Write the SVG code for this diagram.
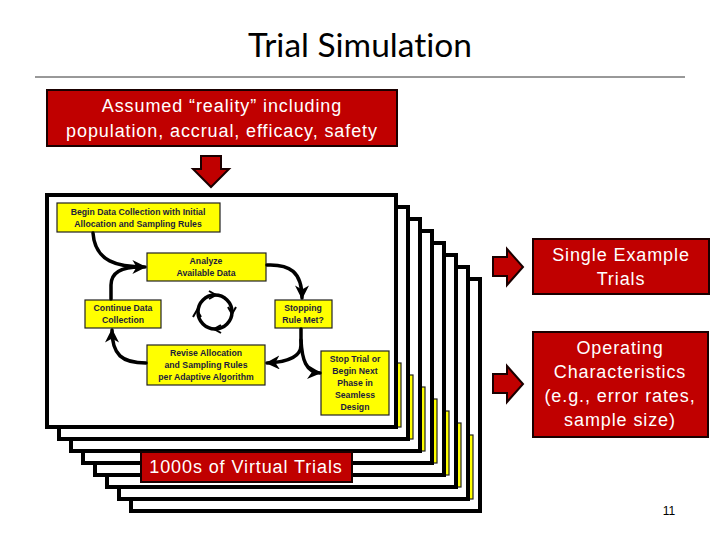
<svg xmlns="http://www.w3.org/2000/svg" width="720" height="540" viewBox="0 0 720 540">
<style>
.title{font-family:Lato,"Liberation Sans",Arial,sans-serif;font-size:33.5px;fill:#000;text-anchor:middle;font-variant-ligatures:none;font-feature-settings:"liga" 0}
.red{fill:#C00000;stroke:#1a0000;stroke-width:2}
.rt{font-family:"Liberation Sans",Arial,sans-serif;font-size:18px;letter-spacing:0.9px;fill:#fff;text-anchor:middle}
.page{fill:#fff;stroke:#000;stroke-width:4}
.yb{fill:#FFFF00;stroke:#222;stroke-width:1.2}
.ybt{font-family:"Liberation Sans",Arial,sans-serif;font-size:8.7px;font-weight:bold;fill:#1c1c3c;text-anchor:middle}
.ra{fill:#C00000;stroke:#1a0000;stroke-width:2;stroke-linejoin:miter}
.fc{fill:none;stroke:#000;stroke-width:3.5;stroke-linecap:round}
.ch{fill:none;stroke:#000;stroke-width:2}
</style>
<defs>
<marker id="ah" markerUnits="userSpaceOnUse" markerWidth="14" markerHeight="14" viewBox="0 0 10 10" refX="9" refY="5" orient="auto">
<path d="M0,0 L10,5 L0,10 L3,5 z" fill="#000"/>
</marker>
</defs>
<rect width="720" height="540" fill="#fff"/>
<g id="title">
<text class="title" x="360" y="57">Trial Simulation</text>
<line x1="35" y1="77" x2="685" y2="77" stroke="#333" stroke-width="1"/>
</g>
<g id="reality">
<rect class="red" x="47" y="90" width="350" height="56"/>
<text class="rt" x="222" y="112">Assumed “reality” including</text>
<text class="rt" x="222" y="137">population, accrual, efficacy, safety</text>
</g>
<g id="stack">
<rect class="page" x="131" y="279" width="349" height="232"/>
<rect class="yb" x="405" y="435" width="68" height="64"/>
<rect class="page" x="119" y="267" width="349" height="232"/>
<rect class="yb" x="393" y="423" width="68" height="64"/>
<rect class="page" x="107" y="255" width="349" height="232"/>
<rect class="yb" x="381" y="411" width="68" height="64"/>
<rect class="page" x="95" y="243" width="349" height="232"/>
<rect class="yb" x="369" y="399" width="68" height="64"/>
<rect class="page" x="83" y="231" width="349" height="232"/>
<rect class="yb" x="357" y="387" width="68" height="64"/>
<rect class="page" x="71" y="219" width="349" height="232"/>
<rect class="yb" x="345" y="375" width="68" height="64"/>
<rect class="page" x="59" y="207" width="349" height="232"/>
<rect class="yb" x="333" y="363" width="68" height="64"/>
<rect class="page" x="47" y="195" width="349" height="232"/>
</g>
<g id="begin">
<rect class="yb" x="57" y="203" width="163" height="29"/>
<text class="ybt" x="138" y="215">Begin Data Collection with Initial</text>
<text class="ybt" x="138" y="227">Allocation and Sampling Rules</text>
</g>
<g id="analyze">
<rect class="yb" x="147" y="253" width="119" height="28"/>
<text class="ybt" x="206" y="264">Analyze</text>
<text class="ybt" x="206" y="276">Available Data</text>
</g>
<g id="continue">
<rect class="yb" x="85" y="300" width="76" height="28"/>
<text class="ybt" x="123" y="311">Continue Data</text>
<text class="ybt" x="123" y="323">Collection</text>
</g>
<g id="stopping">
<rect class="yb" x="275" y="300" width="57" height="28"/>
<text class="ybt" x="303" y="311">Stopping</text>
<text class="ybt" x="303" y="323">Rule Met?</text>
</g>
<g id="revise">
<rect class="yb" x="147" y="345" width="118" height="40"/>
<text class="ybt" x="206" y="356">Revise Allocation</text>
<text class="ybt" x="206" y="368">and Sampling Rules</text>
<text class="ybt" x="206" y="380">per Adaptive Algorithm</text>
</g>
<g id="stoptrial">
<rect class="yb" x="321" y="351" width="68" height="64"/>
<text class="ybt" x="355" y="362">Stop Trial or</text>
<text class="ybt" x="355" y="374">Begin Next</text>
<text class="ybt" x="355" y="386">Phase in</text>
<text class="ybt" x="355" y="398">Seamless</text>
<text class="ybt" x="355" y="410">Design</text>
</g>
<g id="cycle">
<circle cx="215" cy="312" r="17" fill="none" stroke="#000" stroke-width="3.5"/>
<path class="ch" d="M209,291 L216,295 L209,299"/>
<path class="ch" d="M228,307 L232,314 L236,307"/>
<path class="ch" d="M221,325 L214,329 L221,333"/>
<path class="ch" d="M193,317 L197,310 L201,317"/>
</g>
<g id="connectors">
<path class="fc" d="M93,233 C95,262 118,267 145,267" marker-end="url(#ah)"/>
<path class="fc" d="M111,299 L111,285 C111,272 122,267 140,267"/>
<path class="fc" d="M267,265 C290,264 302,272 302,298" marker-end="url(#ah)"/>
<path class="fc" d="M301,329 L301,345 C301,356 290,362 267,363" marker-end="url(#ah)"/>
<path class="fc" d="M301,340 C302,360 306,372 320,373" marker-end="url(#ah)"/>
<path class="fc" d="M146,363 C122,363 112,355 112,330" marker-end="url(#ah)"/>
</g>
<g id="down-arrow">
<polygon class="ra" points="201,156 221,156 221,169 229,169 211,187 193,169 201,169"/>
</g>
<g id="arrow-single">
<polygon class="ra" points="493,257 507,257 507,249 523,267 507,285 507,276 493,276"/>
</g>
<g id="arrow-oc">
<polygon class="ra" points="493,374 507,374 507,366 523,384 507,402 507,393 493,393"/>
</g>
<g id="single">
<rect class="red" x="533" y="239" width="176" height="55"/>
<text class="rt" x="621" y="261">Single Example</text>
<text class="rt" x="621" y="285">Trials</text>
</g>
<g id="oc">
<rect class="red" x="533" y="332" width="175" height="105"/>
<text class="rt" x="620" y="354">Operating</text>
<text class="rt" x="620" y="378">Characteristics</text>
<text class="rt" x="620" y="402">(e.g., error rates,</text>
<text class="rt" x="620" y="426">sample size)</text>
</g>
<g id="virtual">
<rect class="red" x="141" y="452" width="211" height="30"/>
<text class="rt" x="246" y="473">1000s of Virtual Trials</text>
</g>
<g id="pagenum">
<text x="669" y="515" font-family="Liberation Sans,Arial,sans-serif" font-size="12" fill="#000" text-anchor="middle">11</text>
</g>
</svg>
